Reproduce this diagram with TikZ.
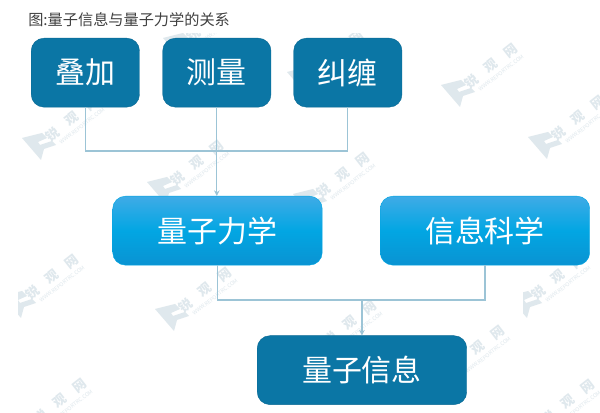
\documentclass[tikz,border=0pt]{standalone}
\usepackage{fontspec}
\setmainfont{Noto Sans CJK SC}
\usetikzlibrary{arrows.meta}
\definecolor{boxdark}{HTML}{0B76A5}
\definecolor{boxtop}{HTML}{3FABE6}
\definecolor{boxmid}{HTML}{02A6E3}
\definecolor{boxbot}{HTML}{0A93D2}
\definecolor{linkcol}{HTML}{9CC4D6}
\definecolor{markcol}{HTML}{DFE8ED}
\tikzset{
  darkbox/.style={rounded corners=9pt,fill=boxdark,draw=boxdark!90!black,line width=0.3pt,text=white,font=\fontsize{21.3}{21.3}\selectfont,anchor=north west,minimum height=49pt,inner sep=0pt},
  lightbox/.style={rounded corners=9pt,top color=boxtop,bottom color=boxbot,middle color=boxmid,draw=boxmid,line width=0.3pt,text=white,font=\fontsize{21.3}{21.3}\selectfont,anchor=north west,minimum width=149pt,minimum height=49pt,inner sep=0pt},
  link/.style={draw=linkcol,line width=0.8pt},
  arrowlink/.style={link,-{Stealth[length=4pt,width=4pt]}}
}
\begin{document}
\begin{tikzpicture}[x=0.025cm,y=-0.025cm]
\useasboundingbox (0,0) rectangle (600,413);
\fill[white] (0,0) rectangle (600,413);
% watermarks
\foreach \wx/\wy in {39/146,164/190,458/93,545/145,172/317,19/304,525/304,304/80,180/46,317/350,445/375,310/202,27/428,535/429} {
  \begin{scope}[shift={(\wx,\wy)}]
    \fill[markcol] (-17,-8) -- (3,-13) -- (8,-8) -- (-1,-4) -- (1,-1) -- (13,-5) -- (17,-1) -- (5,3) -- (2,14) -- cycle;
    \node[rotate=38,text=markcol,font=\bfseries\fontsize{9.3}{9.3}\selectfont,inner sep=0pt] (mark\wx) at (33,-27) {锐\hspace{8.5pt}观\hspace{8.5pt}网};
    \node[rotate=38,text=markcol,font=\fontsize{3.8}{3.8}\selectfont,inner sep=0pt] (site\wx) at (43,-20) {WWW.REPORTRC.COM};
  \end{scope}
}
\fill[white] (0,285) rectangle (18,325);
\fill[white] (505,285) rectangle (523,325);
\fill[white] (0,0) rectangle (600,33);
\node[anchor=west,inner sep=0pt,text=black!75,font=\fontsize{10.8}{11}\selectfont] (title) at (28,19.5) {图:量子信息与量子力学的关系};
\node[darkbox,minimum width=77pt] (dieja) at (31,38) {叠加};
\node[darkbox,minimum width=77pt] (celiang) at (162.5,38) {测量};
\node[darkbox,minimum width=77pt] (jiuchan) at (293.5,38) {纠缠};
\node[lightbox] (liangzi) at (112.5,196) {量子力学};
\node[lightbox] (xinxi) at (380,196) {信息科学};
\node[darkbox,minimum width=149pt] (result) at (257,335.5) {量子信息};
\coordinate (topjoin) at (celiang.south |- 0,151);
\coordinate (lowjoin) at (result.north |- 0,300);
\draw[link] (dieja.south) |- (topjoin);
\draw[link] (jiuchan.south) |- (topjoin);
\draw[arrowlink] (celiang.south) -- (liangzi.north -| celiang.south);
\draw[link] (liangzi.south) |- (lowjoin);
\draw[link] (xinxi.south) |- (lowjoin);
\draw[arrowlink] (lowjoin) -- (result.north);
\end{tikzpicture}
\end{document}
